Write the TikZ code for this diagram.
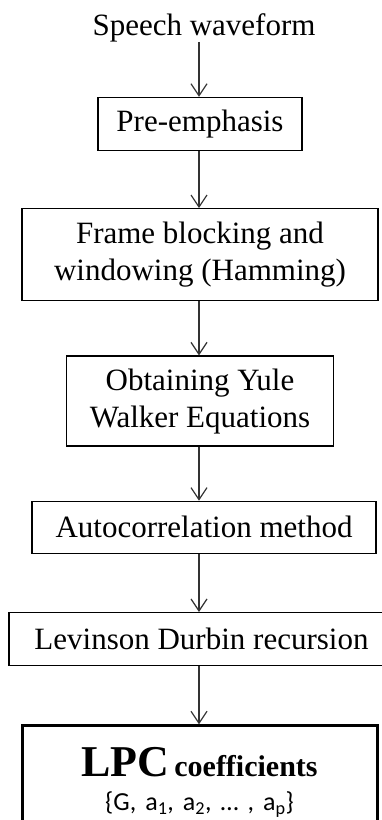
\documentclass[tikz,border=0pt]{standalone}
\usepackage{fontspec}
\setmainfont{Liberation Serif}
\newfontfamily\setfont{Carlito}
\usetikzlibrary{arrows.meta,positioning}

\begin{document}
\begin{tikzpicture}[x=1pt,y=1pt,
  procbox/.style = {shape=rectangle, draw=black, line width=1.3pt,
    align=center, inner sep=0pt, font=\fontsize{31}{37}\selectfont},
  line/.style={draw=black!80, line width=1.2pt,
    -{Straight Barb[length=12pt,width=16pt,line width=1.2pt]}}
  ]
  \useasboundingbox (0,0) rectangle (382,-820);
  \clip (0,0) rectangle (382,-820);
  \coordinate (spine) at (199,0);
  \node[anchor=base, inner sep=0pt, font=\fontsize{31}{37}\selectfont] (wave) at (204,-35) {Speech waveform};
  \node[procbox, minimum width=204pt, minimum height=53pt, below=55pt of wave, xshift=-4pt] (pre) {Pre-emphasis};
  \node[procbox, minimum width=356pt, minimum height=92pt, below=57pt of pre] (frame)
    {Frame blocking and\\windowing (Hamming)};
  \node[procbox, minimum width=267pt, minimum height=90pt, below=54pt of frame] (yule)
    {Obtaining Yule\\Walker Equations};
  \node[procbox, minimum width=344pt, minimum height=52pt, below=54pt of yule, xshift=4pt] (auto)
    {Autocorrelation method};
  \node[procbox, minimum width=385pt, minimum height=53pt, below=58pt of auto, xshift=-2.5pt] (levin)
    {Levinson Durbin recursion};
  \node[procbox, line width=3pt, minimum width=355pt, inner ysep=22pt, below=58pt of levin, xshift=-2pt,
    font=\fontsize{30}{34}\selectfont] (lpc)
    {{\fontsize{44}{44}\selectfont\bfseries LPC}\,{\bfseries coefficients}\\
     {\setfont\fontsize{26}{34}\selectfont\spaceskip=9pt
      \{G, a\textsubscript{1}, a\textsubscript{2}, … , a\textsubscript{p}\}}};
  % arrows down the chain
  \draw[line] (wave.south -| spine) -- (pre.north -| spine);
  \draw[line] (pre.south -| spine) -- (frame.north -| spine);
  \draw[line] (frame.south -| spine) -- (yule.north -| spine);
  \draw[line] (yule.south -| spine) -- (auto.north -| spine);
  \draw[line] (auto.south -| spine) -- (levin.north -| spine);
  \draw[line] (levin.south -| spine) -- (lpc.north -| spine);
\end{tikzpicture}
\end{document}
